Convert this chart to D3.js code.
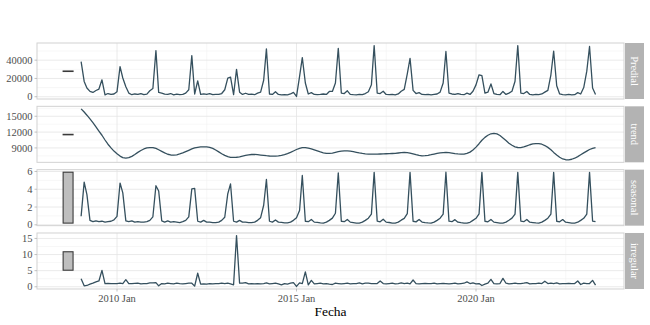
<!DOCTYPE html>
<html><head><meta charset="utf-8">
<script src="https://cdn.jsdelivr.net/npm/d3@7"></script>
<style>body{margin:0;background:#fff}svg{display:block}</style>
</head><body>
<svg id="chart" width="650" height="325"></svg>
<script>
// ---------------- data ----------------
const startMonth = "2009-01-01";
const panelNames = ["Predial", "trend", "seasonal", "irregular"];

const predial = [
38500,16700,9500,5800,4700,6800,8400,18500,2000,3500,2500,3000,
5500,33000,20500,11000,4000,2200,3000,2500,3500,2200,2800,6500,
9000,50500,4700,4000,2800,2500,3500,2000,2800,2200,2500,4000,
7600,45000,3000,17400,2500,3200,2500,3500,2200,2500,2500,3500,
7600,20400,21500,2200,30000,5000,2500,3800,2500,2800,2200,4000,
5000,18000,52300,3000,2500,5500,2500,2000,2200,2000,3000,4800,
300,22000,42800,15000,3000,4500,2500,2200,2500,3000,2500,5800,
5800,15000,53000,4000,3500,6500,2500,2200,2000,2500,2200,3500,
5500,13000,56000,4000,3500,6000,2500,2200,2500,2000,3000,6000,
8000,25000,42000,7000,3500,4500,2500,2200,2500,2000,2500,3000,
5000,15000,49500,4000,3000,2500,3500,2500,2200,4000,2500,6000,
13000,24000,23000,4000,5000,14000,3500,2500,2200,5800,2500,4000,
6000,17000,56000,4000,3500,5800,2500,2000,2500,2200,3000,5000,
7000,24000,50000,12000,3000,2200,2000,2500,2000,2200,4500,3000,
10000,28000,55000,9500,2500
];

const trend = [
16400,15800,15200,14500,13800,13000,12200,11400,10500,9700,9000,8400,
7900,7450,7150,7070,7150,7400,7750,8150,8500,8800,9000,9070,
9050,8900,8650,8350,8050,7800,7660,7630,7700,7850,8050,8300,
8550,8800,9000,9120,9180,9200,9200,9100,8900,8600,8250,7900,
7580,7350,7220,7200,7230,7320,7450,7580,7680,7750,7760,7720,
7650,7580,7520,7470,7440,7440,7480,7570,7720,7920,8150,8420,
8700,8920,9060,9070,8980,8820,8620,8420,8230,8070,7960,7950,
8020,8150,8280,8380,8430,8440,8400,8300,8170,8050,7950,7880,
7840,7820,7820,7830,7850,7870,7890,7910,7940,7980,8040,8100,
8140,8120,8030,7880,7720,7580,7500,7520,7600,7710,7840,7960,
8060,8120,8140,8100,8020,7930,7860,7820,7830,7950,8200,8600,
9150,9800,10450,11000,11400,11680,11760,11650,11350,10900,10400,9900,
9500,9200,9080,9070,9200,9400,9600,9750,9820,9820,9700,9450,
9100,8650,8150,7650,7220,6900,6760,6750,6850,7050,7350,7700,
8050,8400,8700,8920,9070
];

const seasonal = [
0.96,4.8,3.4,0.5,0.35,0.45,0.35,0.4,0.3,0.35,0.4,0.55,
0.95,4.7,3.6,0.45,0.35,0.45,0.3,0.35,0.3,0.3,0.35,0.5,
0.9,4.4,3.8,0.45,0.3,0.45,0.3,0.35,0.3,0.25,0.35,0.5,
0.9,4.05,4.1,0.4,0.3,0.5,0.3,0.3,0.25,0.25,0.3,0.5,
0.85,3.5,4.6,0.4,0.3,0.5,0.3,0.3,0.25,0.25,0.3,0.5,
0.8,2.2,5.1,0.4,0.3,0.55,0.3,0.28,0.22,0.22,0.3,0.5,
0.8,1.6,5.55,0.4,0.35,0.6,0.3,0.28,0.22,0.2,0.3,0.5,
0.75,1.3,5.85,0.4,0.35,0.6,0.3,0.25,0.2,0.2,0.3,0.5,
0.74,1.2,5.9,0.42,0.34,0.62,0.3,0.26,0.2,0.2,0.3,0.52,
0.72,1.25,5.9,0.4,0.33,0.6,0.31,0.25,0.21,0.19,0.3,0.5,
0.74,1.2,5.92,0.41,0.35,0.58,0.3,0.24,0.2,0.2,0.28,0.5,
0.73,1.22,5.9,0.4,0.34,0.6,0.3,0.25,0.2,0.19,0.3,0.51,
0.75,1.2,5.91,0.42,0.35,0.6,0.29,0.25,0.21,0.2,0.3,0.5,
0.74,1.21,5.9,0.4,0.34,0.59,0.3,0.25,0.2,0.2,0.29,0.5,
0.73,1.2,5.9,0.42,0.35
];

const irregular = [
2.5,0.3,0.4,0.8,1.1,1.5,1.8,5.1,1.0,1.05,1.0,1.0,
1.0,1.1,1.0,2.2,1.0,0.95,1.05,1.1,0.9,1.0,1.0,1.2,
1.2,1.3,0.3,1.0,0.9,1.1,1.0,0.9,1.1,0.95,0.9,1.0,
1.1,1.1,0.2,4.2,0.8,0.9,0.8,1.0,0.9,1.0,1.0,1.1,
1.0,1.1,0.9,0.6,15.9,1.1,1.1,1.3,0.9,1.0,0.9,1.0,
0.9,1.0,1.2,0.9,1.0,1.1,0.9,0.6,1.0,0.85,1.1,1.3,
0.1,1.2,1.0,4.6,0.6,2.0,0.9,1.0,1.1,0.9,1.0,0.8,
0.7,1.1,1.0,0.9,1.0,1.1,0.9,1.0,1.0,1.2,0.9,1.1,
1.1,1.0,0.95,1.0,1.8,1.0,0.9,1.0,1.1,0.9,1.0,1.2,
1.0,1.1,0.9,2.1,1.0,0.9,1.0,1.05,0.95,1.0,1.1,0.9,
1.0,1.05,1.0,0.9,1.0,1.1,0.9,1.0,1.1,1.5,1.0,1.2,
0.9,1.0,0.4,0.8,1.1,2.3,1.0,0.9,1.0,2.6,1.1,0.9,
1.0,1.1,0.95,1.0,1.1,1.3,0.9,1.0,1.0,1.1,1.0,1.7,
1.0,1.1,1.0,1.2,0.9,1.0,1.0,1.05,1.0,1.0,1.8,0.7,
1.1,1.0,1.0,2.0,0.5
];

const predialTicks = [0, 20000, 40000];
const trendTicks = [9000, 12000, 15000];
const seasonalTicks = [0, 2, 4, 6];
const irregularTicks = [0, 5, 10, 15];
const xTickDates = ["2010-01-01", "2015-01-01", "2020-01-01"];
const xTickLabels = ["2010 Jan", "2015 Jan", "2020 Jan"];
const xTitle = "Fecha";

// ---------------- layout ----------------
const W = 650, H = 325;
const left = 37, right = 624, stripW = 19;
const panelTop = 43, panelH = 56, panelGap = 7.33;
const lineColor = "#35505e";
const font = "'Liberation Serif','Times New Roman',serif";

const svg = d3.select("#chart");
svg.append("rect").attr("width", W).attr("height", H).attr("fill", "#fff");

const start = new Date(startMonth + "T00:00:00Z");
const dates = predial.map((_, i) => d3.utcMonth.offset(start, i));

// x scale calibrated so that 2010 Jan / 2020 Jan fall where the reference places them
const cal = d3.scaleUtc().domain([new Date("2010-01-01T00:00:00Z"), new Date("2020-01-01T00:00:00Z")]).range([117, 476]);
const x = d3.scaleUtc().domain([cal.invert(left), cal.invert(right)]).range([left, right]);

const series = [predial, trend, seasonal, irregular];
const ticks = [predialTicks, trendTicks, seasonalTicks, irregularTicks];

// scale-bar length: smallest data range among panels
const ranges = series.map(s => d3.extent(s));
const barLen = d3.min(ranges, r => r[1] - r[0]);
const barX0 = x(d3.utcDay.offset(start, -183));
const barX1 = x(d3.utcDay.offset(start, -82));

// x minor grid (midpoints between major ticks)
const xMajor = xTickDates.map(d => new Date(d + "T00:00:00Z"));
const xMinor = [];
const stepMs = xMajor[1] - xMajor[0];
for (let t = +xMajor[0] - stepMs * 1.5; t <= +xMajor[xMajor.length - 1] + stepMs * 1.5; t += stepMs) {
  const dd = new Date(t);
  if (dd >= x.domain()[0] && dd <= x.domain()[1]) xMinor.push(dd);
}

series.forEach((s, p) => {
  const top = panelTop + p * (panelH + panelGap);
  const bot = top + panelH;
  const [mn, mx] = ranges[p];
  const pad = (mx - mn) * 0.05;
  const y = d3.scaleLinear().domain([mn - pad, mx + pad]).range([bot, top]);
  const g = svg.append("g");

  // minor y grid
  const tk = ticks[p];
  const st = tk[1] - tk[0];
  const yMinor = [];
  for (let v = tk[0] - st / 2; v <= tk[tk.length - 1] + st / 2 + 1e-9; v += st) {
    if (v >= y.domain()[0] && v <= y.domain()[1]) yMinor.push(v);
  }
  g.selectAll(".ymin").data(yMinor).join("line")
    .attr("x1", left).attr("x2", right).attr("y1", d => y(d)).attr("y2", d => y(d))
    .attr("stroke", "#f1f1f1").attr("stroke-width", 0.6);
  g.selectAll(".xmin").data(xMinor).join("line")
    .attr("x1", d => x(d)).attr("x2", d => x(d)).attr("y1", top).attr("y2", bot)
    .attr("stroke", "#f1f1f1").attr("stroke-width", 0.6);
  // major grid
  g.selectAll(".ymaj").data(tk).join("line")
    .attr("x1", left).attr("x2", right).attr("y1", d => y(d)).attr("y2", d => y(d))
    .attr("stroke", "#e4e4e4").attr("stroke-width", 0.8);
  g.selectAll(".xmaj").data(xMajor).join("line")
    .attr("x1", d => x(d)).attr("x2", d => x(d)).attr("y1", top).attr("y2", bot)
    .attr("stroke", "#e4e4e4").attr("stroke-width", 0.8);

  // scale bar
  const mid = (mn + mx) / 2;
  const by0 = y(mid + barLen / 2), by1 = y(mid - barLen / 2);
  g.append("rect")
    .attr("x", barX0).attr("y", by0)
    .attr("width", barX1 - barX0).attr("height", Math.max(by1 - by0, 0.5))
    .attr("fill", "#bebebe").attr("stroke", "#3a3a3a").attr("stroke-width", 1.1);

  // data line
  g.append("path").datum(s)
    .attr("fill", "none").attr("stroke", lineColor).attr("stroke-width", 1.3)
    .attr("stroke-linejoin", "round")
    .attr("d", d3.line().x((d, i) => x(dates[i])).y(d => y(d)));

  // panel border
  g.append("rect").attr("x", left).attr("y", top).attr("width", right - left).attr("height", panelH)
    .attr("fill", "none").attr("stroke", "#d2d2d2").attr("stroke-width", 1);

  // y axis ticks + labels
  g.selectAll(".yt").data(tk).join("line")
    .attr("x1", left - 2.5).attr("x2", left).attr("y1", d => y(d)).attr("y2", d => y(d))
    .attr("stroke", "#b3b3b3").attr("stroke-width", 0.8);
  g.selectAll(".yl").data(tk).join("text")
    .attr("x", left - 4.5).attr("y", d => y(d)).attr("dy", "0.35em")
    .attr("text-anchor", "end").attr("fill", "#4d4d4d")
    .attr("font-family", font).attr("font-size", "10.5px")
    .text(d => d3.format("d")(d));

  // strip
  g.append("rect").attr("x", right + 1).attr("y", top).attr("width", stripW).attr("height", panelH)
    .attr("fill", "#b3b3b3");
  g.append("text")
    .attr("transform", `translate(${right + 1 + stripW / 2},${top + panelH / 2}) rotate(90)`)
    .attr("text-anchor", "middle").attr("dy", "0.35em")
    .attr("fill", "#ffffff").attr("font-family", font).attr("font-size", "10.5px")
    .text(panelNames[p]);

  // x axis on last panel
  if (p === series.length - 1) {
    g.selectAll(".xt").data(xMajor).join("line")
      .attr("x1", d => x(d)).attr("x2", d => x(d)).attr("y1", bot).attr("y2", bot + 2.5)
      .attr("stroke", "#b3b3b3").attr("stroke-width", 0.8);
    g.selectAll(".xl").data(xMajor).join("text")
      .attr("x", d => x(d)).attr("y", bot + 13)
      .attr("text-anchor", "middle").attr("fill", "#4d4d4d")
      .attr("font-family", font).attr("font-size", "10.5px")
      .text((d, i) => xTickLabels[i]);
    svg.append("text")
      .attr("x", (left + right) / 2).attr("y", bot + 27)
      .attr("text-anchor", "middle").attr("fill", "#000")
      .attr("font-family", font).attr("font-size", "13.5px")
      .text(xTitle);
  }
});
</script>
</body></html>
